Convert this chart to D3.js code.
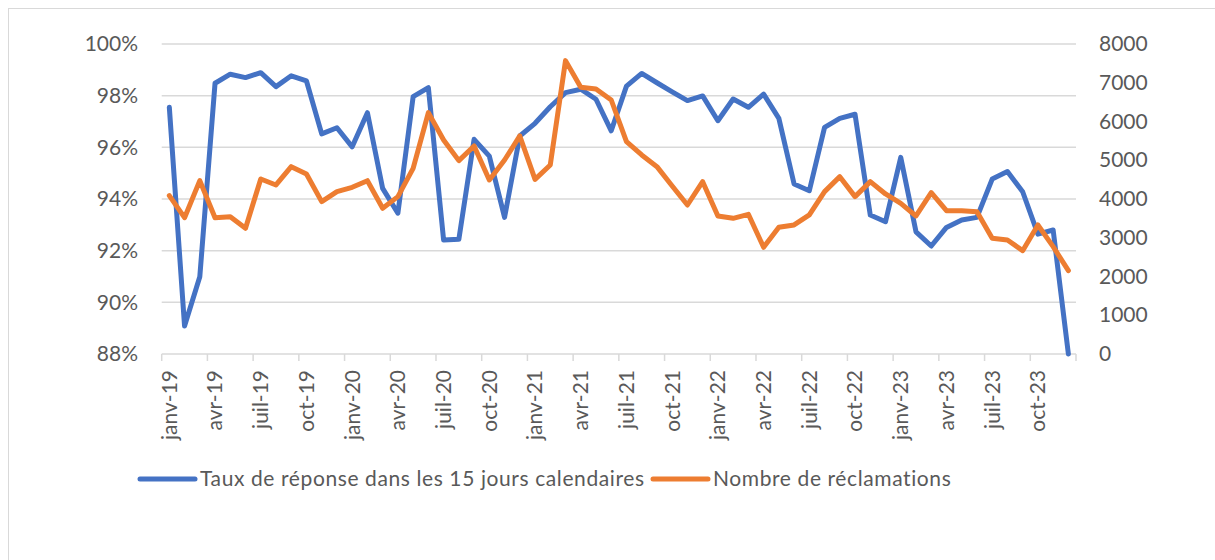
<!DOCTYPE html>
<html>
<head>
<meta charset="utf-8">
<script src="https://cdn.jsdelivr.net/npm/d3@7"></script>
<style>
  body { margin: 0; background: #fff; }
  text { font-family: Lato, 'Open Sans', sans-serif; fill: #595959; }
</style>
</head>
<body>
<div id="chart"></div>
<script>
// month labels, janv-19 .. déc-23
var monthNames = ['janv', 'févr', 'mars', 'avr', 'mai', 'juin', 'juil', 'août', 'sept', 'oct', 'nov', 'déc']
var years = ['19', '20', '21', '22', '23']
var months = []
years.forEach(y => monthNames.forEach(m => months.push(m + '-' + y)))

// Taux de réponse dans les 15 jours calendaires (%)
var taux = [
  97.55, 89.08, 90.99, 98.48, 98.83, 98.70, 98.89, 98.35, 98.77, 98.57, 96.52, 96.76,
  96.02, 97.34, 94.41, 93.45, 97.96, 98.31, 92.41, 92.44, 96.31, 95.66, 93.29, 96.44,
  96.93, 97.57, 98.12, 98.25, 97.86, 96.64, 98.37, 98.86, 98.50, 98.15, 97.81, 97.99,
  97.03, 97.87, 97.55, 98.06, 97.12, 94.58, 94.32, 96.77, 97.12, 97.28, 93.38, 93.12,
  95.61, 92.73, 92.18, 92.90, 93.19, 93.29, 94.77, 95.06, 94.28, 92.64, 92.80, 88.0
]

// Nombre de réclamations
var reclamations = [
  4086, 3518, 4473, 3518, 3544, 3244, 4517, 4362, 4835, 4646, 3932, 4190,
  4302, 4473, 3760, 4061, 4792, 6229, 5524, 4990, 5369, 4491, 5007, 5627,
  4508, 4878, 7571, 6882, 6839, 6555, 5480, 5136, 4835, 4336, 3845, 4448,
  3562, 3502, 3605, 2753, 3269, 3330, 3588, 4190, 4577, 4061, 4448, 4130,
  3889, 3562, 4164, 3699, 3699, 3673, 2985, 2942, 2667, 3330, 2770, 2151
]

var leftTicks = [0.88, 0.90, 0.92, 0.94, 0.96, 0.98, 1.00]
var rightTicks = [0, 1000, 2000, 3000, 4000, 5000, 6000, 7000, 8000]
var seriesNames = ['Taux de réponse dans les 15 jours calendaires', 'Nombre de réclamations']
var colors = ['#4472C4', '#ED7D31']

const width = 1215
const height = 560
const plot = { left: 161.7, right: 1076, top: 44, bottom: 354 }

var svg = d3.select('#chart')
  .append('svg')
  .attr('width', width)
  .attr('height', height)

// chart border
svg.append('rect')
  .attr('x', 8.5).attr('y', 8.5)
  .attr('width', width).attr('height', height)
  .attr('fill', 'none')
  .attr('stroke', '#d9d9d9')

var x = d3.scaleBand()
  .domain(months)
  .range([plot.left, plot.right])
  .padding(0)

var yLeft = d3.scaleLinear()
  .domain([0.88, 1.00])
  .range([plot.bottom, plot.top])

var yRight = d3.scaleLinear()
  .domain([0, 8000])
  .range([plot.bottom, plot.top])

// gridlines
svg.append('g')
  .selectAll('line')
  .data(leftTicks.slice(1))
  .join('line')
  .attr('x1', plot.left).attr('x2', plot.right)
  .attr('y1', d => yLeft(d)).attr('y2', d => yLeft(d))
  .attr('stroke', '#d9d9d9')
  .attr('stroke-width', 1.5)

// left axis
var leftAxis = d3.axisLeft(yLeft)
  .tickValues(leftTicks)
  .tickFormat(d3.format('.0%'))
  .tickSize(0)
  .tickPadding(0)
var gl = svg.append('g')
  .attr('transform', 'translate(138,0)')
  .call(leftAxis)
gl.select('.domain').remove()
gl.selectAll('text').style('font-size', '21px').attr('fill', '#595959')

// right axis
var rightAxis = d3.axisRight(yRight)
  .tickValues(rightTicks)
  .tickFormat(d3.format('d'))
  .tickSize(0)
  .tickPadding(0)
var gr = svg.append('g')
  .attr('transform', 'translate(1099,0)')
  .call(rightAxis)
gr.select('.domain').remove()
gr.selectAll('text').style('font-size', '21px').attr('fill', '#595959')

// category axis line and tick marks between categories
svg.append('line')
  .attr('x1', plot.left).attr('x2', plot.right)
  .attr('y1', plot.bottom).attr('y2', plot.bottom)
  .attr('stroke', '#d9d9d9')
  .attr('stroke-width', 1.5)

var tickMonths = months.filter((m, i) => i % 3 == 0)
var tickXs = tickMonths.map(m => x(m)).concat([plot.right])
svg.append('g')
  .selectAll('line')
  .data(tickXs)
  .join('line')
  .attr('x1', d => d).attr('x2', d => d)
  .attr('y1', plot.bottom).attr('y2', plot.bottom + 7)
  .attr('stroke', '#d9d9d9')
  .attr('stroke-width', 1.5)

svg.append('g')
  .selectAll('text')
  .data(tickMonths)
  .join('text')
  .attr('transform', d => 'translate(' + (x(d) + x.bandwidth() / 2) + ',' + (plot.bottom + 16) + ') rotate(-90)')
  .attr('text-anchor', 'end')
  .attr('dy', '0.35em')
  .style('font-size', '21px')
  .text(d => d)

// lines
var lineLeft = d3.line()
  .x((d, i) => x(months[i]) + x.bandwidth() / 2)
  .y(d => yLeft(d / 100))

var lineRight = d3.line()
  .x((d, i) => x(months[i]) + x.bandwidth() / 2)
  .y(d => yRight(d))

svg.append('path')
  .datum(taux)
  .attr('d', lineLeft)
  .attr('fill', 'none')
  .attr('stroke', colors[0])
  .attr('stroke-width', 5)
  .attr('stroke-linejoin', 'round')
  .attr('stroke-linecap', 'round')

svg.append('path')
  .datum(reclamations)
  .attr('d', lineRight)
  .attr('fill', 'none')
  .attr('stroke', colors[1])
  .attr('stroke-width', 5)
  .attr('stroke-linejoin', 'round')
  .attr('stroke-linecap', 'round')

// legend
var legendX = [140, 653]
var legend = svg.append('g')
  .selectAll('g')
  .data(seriesNames)
  .join('g')
  .attr('transform', (d, i) => 'translate(' + legendX[i] + ',479)')

legend.append('line')
  .attr('x1', 0).attr('x2', 55)
  .attr('stroke', (d, i) => colors[i])
  .attr('stroke-width', 5)
  .attr('stroke-linecap', 'round')

legend.append('text')
  .attr('x', 60)
  .attr('dy', '0.35em')
  .style('font-size', '21px')
  .style('letter-spacing', '0.6px')
  .text(d => d)
</script>
</body>
</html>
